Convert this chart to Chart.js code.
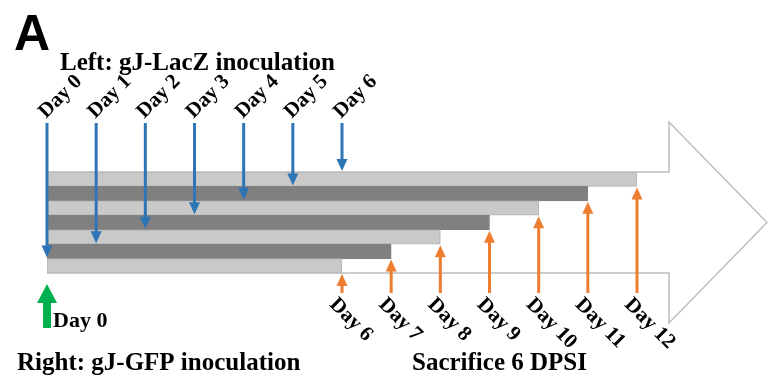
<!DOCTYPE html>
<html>
<head>
<meta charset="utf-8">
<script src="https://cdn.jsdelivr.net/npm/chart.js@4"></script>
<style>
  html, body { margin: 0; padding: 0; background: #fff; }
  canvas { display: block; }
</style>
</head>
<body>
<canvas id="myChart" width="768" height="377"></canvas>
<script>
const ctx = document.getElementById('myChart');

// one row per mouse group, top to bottom
const rowLabels = ['Day 6', 'Day 5', 'Day 4', 'Day 3', 'Day 2', 'Day 1', 'Day 0'];
// left eye gJ-LacZ inoculation day (blue arrows)
const inoculationDays = [6, 5, 4, 3, 2, 1, 0];
// sacrifice day, 6 days post second inoculation (orange arrows)
const sacrificeDays = [12, 11, 10, 9, 8, 7, 6];
// right eye gJ-GFP inoculation (green arrow)
const firstDay = 0;

const serif = '"Liberation Serif", "Times New Roman", serif';

function arrow(c, x, yTail, yTip, color, w, headW, headH) {
  const dir = Math.sign(yTip - yTail);
  c.strokeStyle = color;
  c.fillStyle = color;
  c.lineWidth = w;
  c.beginPath();
  c.moveTo(x, yTail);
  c.lineTo(x, yTip - dir * headH + dir);
  c.stroke();
  c.beginPath();
  c.moveTo(x - headW / 2, yTip - dir * headH);
  c.lineTo(x + headW / 2, yTip - dir * headH);
  c.lineTo(x, yTip);
  c.closePath();
  c.fill();
}

const timeline = {
  id: 'timeline',
  beforeDraw(chart) {
    const c = chart.ctx;
    c.save();
    c.fillStyle = '#fff';
    c.fillRect(0, 0, chart.width, chart.height);
    c.restore();
  },
  beforeDatasetsDraw(chart) {
    // big background arrow
    const c = chart.ctx, a = chart.chartArea;
    const x0 = chart.scales.x.getPixelForValue(firstDay);
    const bodyRight = a.right + 32;
    const midY = (a.top + a.bottom) / 2;
    c.save();
    c.strokeStyle = '#bdbdbd';
    c.lineWidth = 1.5;
    c.beginPath();
    c.moveTo(x0, a.top);
    c.lineTo(bodyRight, a.top);
    c.lineTo(bodyRight, a.top - 50);
    c.lineTo(chart.width - 1, midY);
    c.lineTo(bodyRight, a.bottom + 50);
    c.lineTo(bodyRight, a.bottom);
    c.lineTo(x0, a.bottom);
    c.stroke();
    c.restore();
  },
  afterDatasetsDraw(chart) {
    const c = chart.ctx, a = chart.chartArea;
    const xs = chart.scales.x;
    const bars = chart.getDatasetMeta(0).data;
    c.save();
    bars.forEach((bar, i) => {
      const top = bar.y - bar.height / 2;
      const bottom = bar.y + bar.height / 2;

      // blue: inoculation
      const xb = xs.getPixelForValue(inoculationDays[i]);
      arrow(c, xb, a.top - 49, top - 1, '#2e75b6', 3, 11, 12);
      c.save();
      c.translate(xb - 1, a.top - 53);
      c.rotate(-Math.PI / 4);
      c.fillStyle = '#000';
      c.font = 'bold 21px ' + serif;
      c.textAlign = 'left';
      c.textBaseline = 'alphabetic';
      c.fillText('Day ' + inoculationDays[i], 0, 0);
      c.restore();

      // orange: sacrifice
      const xo = xs.getPixelForValue(sacrificeDays[i]);
      arrow(c, xo, a.bottom + 20, bottom + 1, '#ed7d31', 3, 11, 12);
      c.save();
      c.translate(xo - 2, a.bottom + 21);
      c.rotate(Math.PI / 4);
      c.fillStyle = '#000';
      c.font = 'bold 21px ' + serif;
      c.textAlign = 'left';
      c.textBaseline = 'top';
      c.fillText('Day ' + sacrificeDays[i], 0, 0);
      c.restore();
    });
    c.restore();
  },
  afterDraw(chart) {
    const c = chart.ctx, a = chart.chartArea;
    const xg = chart.scales.x.getPixelForValue(firstDay);
    c.save();
    // green arrow
    c.fillStyle = '#00b050';
    c.fillRect(xg - 4, a.bottom + 28, 8, 27);
    c.beginPath();
    c.moveTo(xg - 10, a.bottom + 30);
    c.lineTo(xg + 10, a.bottom + 30);
    c.lineTo(xg, a.bottom + 11);
    c.closePath();
    c.fill();

    c.fillStyle = '#000';
    c.textAlign = 'left';
    c.textBaseline = 'alphabetic';
    c.font = 'bold 22px ' + serif;
    c.fillText('Day ' + firstDay, 53, 327);
    c.font = 'bold 25px ' + serif;
    c.fillText('Left: gJ-LacZ inoculation', 60, 70);
    c.fillText('Right: gJ-GFP inoculation', 17, 370);
    c.fillText('Sacrifice 6 DPSI', 412, 370);

    c.font = 'bold 50px "Liberation Sans", Arial, sans-serif';
    c.fillText('A', 14, 50);
    c.restore();
  }
};

new Chart(ctx, {
  type: 'bar',
  data: {
    labels: rowLabels,
    datasets: [{
      data: sacrificeDays.map(d => [firstDay, d]),
      backgroundColor: rowLabels.map((_, i) => i % 2 ? '#808080' : '#c9c9c9'),
      borderColor: rowLabels.map((_, i) => i % 2 ? '#808080' : '#b3b3b3'),
      borderWidth: 1,
      borderSkipped: false,
      barPercentage: 1,
      categoryPercentage: 1
    }]
  },
  options: {
    indexAxis: 'y',
    responsive: false,
    devicePixelRatio: 1,
    animation: false,
    layout: { padding: { left: 47, right: 131, top: 172, bottom: 104 } },
    scales: {
      x: { type: 'linear', min: 0, max: 12, display: false },
      y: { display: false }
    },
    plugins: {
      legend: { display: false },
      tooltip: { enabled: false }
    }
  },
  plugins: [timeline]
});
</script>
</body>
</html>
